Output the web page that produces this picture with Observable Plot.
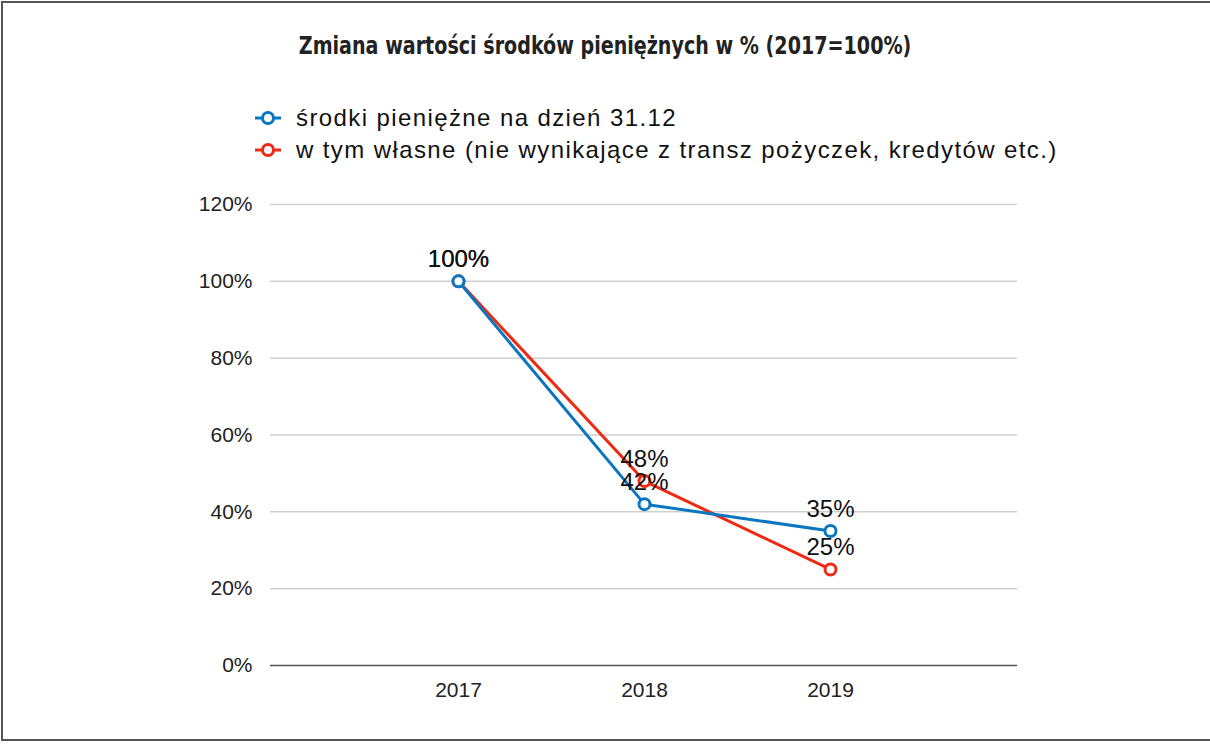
<!DOCTYPE html>
<html>
<head>
<meta charset="utf-8">
<script src="https://cdn.jsdelivr.net/npm/d3@7"></script>
<script src="https://cdn.jsdelivr.net/npm/@observablehq/plot@0.6"></script>
<style>
  html, body { margin: 0; padding: 0; background: #fff; }
  #wrap { position: relative; width: 1210px; height: 744px; overflow: hidden; background: #fff; font-family: "Liberation Sans", Arial, sans-serif; }
  #frame { position: absolute; left: 1px; top: 1px; width: 1211px; height: 740px; border: 2px solid #555; box-sizing: border-box; pointer-events: none; border-right: none; }
  #titlebox { position: absolute; left: 0; width: 1210px; top: 31px; text-align: center; }
  #title { display: inline-block; font-family: "DejaVu Sans Condensed", "Liberation Sans Narrow", sans-serif; font-weight: bold; font-size: 24px; color: #222; line-height: 30px; transform: scaleX(0.885); transform-origin: center; white-space: nowrap; }
  #legend { position: absolute; left: 254px; top: 102px; font-size: 24px; letter-spacing: 1.4px; color: #111; }
  .li { display: flex; align-items: center; height: 32px; white-space: nowrap; }
  .li svg { margin-right: 14px; }
  #chart { position: absolute; left: 0; top: 175px; }
</style>
</head>
<body>
<div id="wrap">
  <div id="titlebox"><span id="title"></span></div>
  <div id="legend"></div>
  <div id="chart"></div>
  <div id="frame"></div>
</div>
<script>
const titleText = "Zmiana wartości środków pieniężnych w % (2017=100%)";
const years = ["2017", "2018", "2019"];
const seriesNames = ["środki pieniężne na dzień 31.12", "w tym własne (nie wynikające z transz pożyczek, kredytów etc.)"];
const seriesColors = ["#0a76c0", "#ee2a12"];
const cashTotal = [100, 42, 35];
const cashOwn = [100, 48, 25];
const yTicks = [0, 20, 40, 60, 80, 100, 120];

document.getElementById("title").textContent = titleText;

const legend = document.getElementById("legend");
seriesNames.forEach((name, i) => {
  const row = document.createElement("div");
  row.className = "li";
  row.innerHTML = `<svg width="28" height="16"><line x1="1" x2="27" y1="8" y2="8" stroke="${seriesColors[i]}" stroke-width="3"/><circle cx="14" cy="8" r="5.5" fill="#fff" stroke="${seriesColors[i]}" stroke-width="3"/></svg><span></span>`;
  row.querySelector("span").textContent = name;
  legend.appendChild(row);
});

const data = [];
// draw own (red) first, then total (blue) on top
[[cashOwn, 1], [cashTotal, 0]].forEach(([vals, si]) => {
  years.forEach((y, j) => data.push({year: y, value: vals[j], series: seriesNames[si]}));
});

const chart = Plot.plot({
  width: 1210,
  height: 560,
  marginLeft: 270,
  marginRight: 193,
  marginTop: 29,
  marginBottom: 70,
  style: {fontFamily: "'Liberation Sans', Arial, sans-serif", fontSize: "21px", color: "#222", background: "transparent"},
  x: {type: "point", domain: years, padding: 1, label: null, tickSize: 0, tickPadding: 17},
  y: {domain: [0, 120], ticks: yTicks, tickFormat: d => d + "%", label: null, tickSize: 0, tickPadding: 18},
  color: {domain: seriesNames, range: seriesColors},
  marks: [
    Plot.gridY(yTicks.filter(t => t > 0), {stroke: "#cfcfcf", strokeOpacity: 1, strokeWidth: 1.5}),
    Plot.ruleY([0], {stroke: "#555", strokeWidth: 1.5}),
    Plot.line(data, {x: "year", y: "value", z: "series", stroke: "series", strokeWidth: 3}),
    Plot.dot(data, {x: "year", y: "value", stroke: "series", fill: "white", r: 5.5, strokeWidth: 3}),
    Plot.text(data, {x: "year", y: "value", text: d => d.value + "%", dy: -22, fill: "#111", fontSize: 24})
  ]
});
document.getElementById("chart").appendChild(chart);
</script>
</body>
</html>
